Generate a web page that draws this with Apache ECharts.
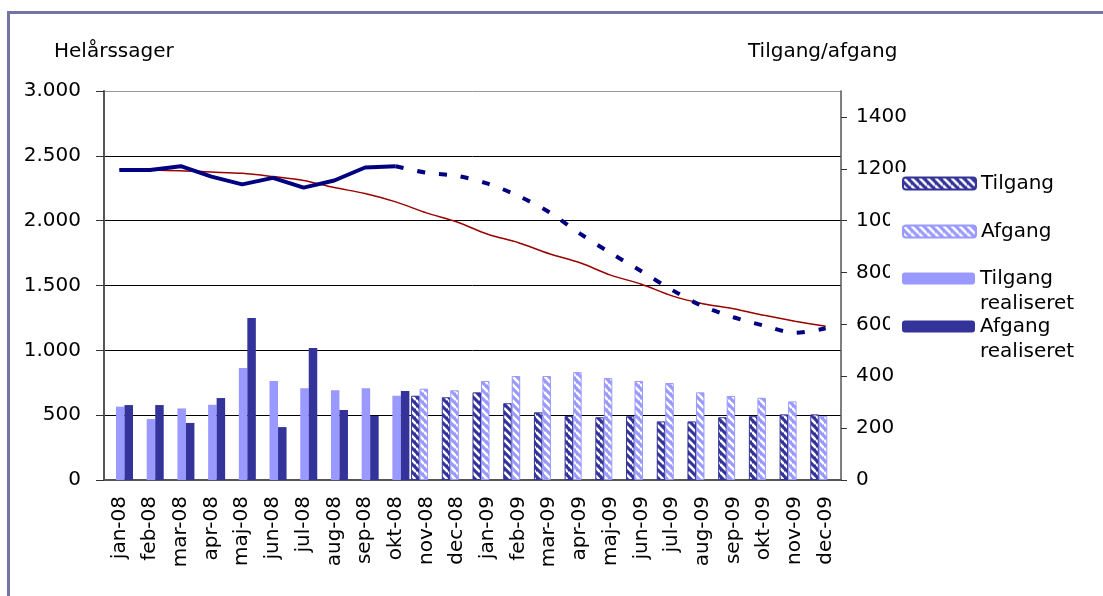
<!DOCTYPE html>
<html>
<head>
<meta charset="utf-8">
<title>Helårssager</title>
<script src="https://cdn.jsdelivr.net/npm/echarts@6.0.0/dist/echarts.min.js"></script>
<style>
  html, body { margin: 0; padding: 0; background: #fff; }
  #chart { width: 1103px; height: 596px; }
</style>
</head>
<body>
<div id="chart"></div>
<script>
// kategorier
const months = ["jan-08", "feb-08", "mar-08", "apr-08", "maj-08", "jun-08", "jul-08", "aug-08",
  "sep-08", "okt-08", "nov-08", "dec-08", "jan-09", "feb-09", "mar-09", "apr-09", "maj-09",
  "jun-09", "jul-09", "aug-09", "sep-09", "okt-09", "nov-09", "dec-09"];

// helårssager (venstre akse)
const helaarRealiseret = [2390, 2390, 2420, 2340, 2280, 2330, 2255, 2310, 2410, 2420,
  null, null, null, null, null, null, null, null, null, null, null, null, null, null];
const helaarPrognose = [null, null, null, null, null, null, null, null, null, 2420,
  2370, 2345, 2285, 2190, 2065, 1900, 1750, 1610, 1465, 1340, 1255, 1190, 1135, 1170];
const maal = [2395, 2390, 2385, 2375, 2365, 2340, 2310, 2255, 2210, 2145, 2060, 1990,
  1895, 1830, 1745, 1675, 1580, 1510, 1420, 1360, 1320, 1270, 1225, 1185];

// tilgang/afgang (højre akse)
const tilgangReal = [283, 235, 276, 290, 432, 382, 354, 346, 354, 325,
  null, null, null, null, null, null, null, null, null, null, null, null, null, null];
const afgangReal = [289, 289, 220, 316, 625, 204, 509, 270, 247, 343,
  null, null, null, null, null, null, null, null, null, null, null, null, null, null];
const tilgang = [null, null, null, null, null, null, null, null, null, null,
  325, 319, 338, 296, 261, 247, 242, 246, 226, 226, 242, 246, 253, 253];
const afgang = [null, null, null, null, null, null, null, null, null, null,
  352, 346, 382, 401, 401, 416, 393, 382, 374, 338, 324, 317, 303, 246];

const leftTicks = { min: 0, max: 3000, interval: 500 };
const rightTicks = { min: 0, max: 1500, interval: 200 };

const FONT = "DejaVu Sans";
const DARK = "#333399";
const LIGHT = "#9999FF";

// skraveret mønster til prognose-søjlerne
function hatch(color) {
  let c = document.createElement("canvas");
  c.width = 8;
  c.height = 8;
  let ctx = c.getContext("2d");
  ctx.fillStyle = color;
  ctx.fillRect(0, 0, 8, 8);
  ctx.strokeStyle = "#fff";
  ctx.lineWidth = 2.6;
  for (let k = -1; k <= 1; k++) {
    ctx.beginPath();
    ctx.moveTo(0, k * 8);
    ctx.lineTo(8, 8 + k * 8);
    ctx.stroke();
  }
  return { image: c, repeat: "repeat" };
}

function dots(v) {
  return String(v).replace(/\B(?=(\d{3})+(?!\d))/g, ".");
}

let chartDom = document.getElementById("chart");
let myChart = echarts.init(chartDom);
let option;

const txt = { fontFamily: FONT, fontSize: 20, color: "#000" };

// en legend pr. post, så placeringen passer
function legendItem(name, top, twoLines) {
  return {
    orient: "vertical",
    left: 902,
    top: top,
    padding: 0,
    itemWidth: 73,
    itemHeight: 12,
    selectedMode: false,
    data: [name],
    formatter: (n) => (twoLines ? "\n" + n.replace(" ", "\n") : n),
    textStyle: Object.assign({ lineHeight: 25 }, txt),
  };
}

option = {
  animation: false,
  backgroundColor: "#fff",
  title: [
    { text: "Helårssager", left: 54, top: 40, padding: 0,
      textStyle: Object.assign({ fontWeight: "normal", lineHeight: 24 }, txt) },
    { text: "Tilgang/afgang", left: 748, top: 40, padding: 0,
      textStyle: Object.assign({ fontWeight: "normal", lineHeight: 24 }, txt) },
  ],
  graphic: [
    { type: "rect", z: 2, shape: { x: 890, y: 172, width: 213, height: 192 },
      style: { fill: "#fff" } },
    { type: "rect", z: 1, shape: { x: 8.5, y: 12.5, width: 1200, height: 700 },
      style: { fill: "none", stroke: "#7373A8", lineWidth: 3 } },
  ],
  legend: [
    legendItem("Tilgang", 171, false),
    legendItem("Afgang", 219, false),
    legendItem("Tilgang realiseret", 241, true),
    legendItem("Afgang realiseret", 289, true),
  ],
  grid: { left: 104, right: 262, top: 91, bottom: 116 },
  xAxis: [
    {
      type: "category",
      data: months,
      axisLine: { lineStyle: { color: "#555", width: 2 } },
      axisTick: { length: 6, lineStyle: { color: "#333" } },
      axisLabel: Object.assign({ rotate: 90, interval: 0, margin: 16 }, txt),
    },
    { type: "category", data: months, show: false },
  ],
  yAxis: [
    {
      type: "value",
      min: leftTicks.min,
      max: leftTicks.max,
      interval: leftTicks.interval,
      axisLine: { show: true, lineStyle: { color: "#555", width: 2 } },
      axisTick: { show: true, length: 8, lineStyle: { color: "#333" } },
      axisLabel: Object.assign({ margin: 23, formatter: dots }, txt),
      splitLine: {
        lineStyle: { color: ["#000", "#000", "#000", "#000", "#000", "#000", "#999"], width: 1 },
      },
    },
    {
      type: "value",
      min: rightTicks.min,
      max: rightTicks.max,
      interval: rightTicks.interval,
      position: "right",
      axisLine: { show: true, lineStyle: { color: "#555", width: 1.5 } },
      axisTick: { show: true, length: 6, lineStyle: { color: "#333" } },
      axisLabel: Object.assign({ margin: 15, showMaxLabel: false, formatter: (v) => String(v) }, txt),
      splitLine: { show: false },
    },
  ],
  series: [
    // realiseret søjler (xAxis 0), med tom plads foran
    { name: "_pad1", type: "bar", xAxisIndex: 0, yAxisIndex: 1, data: [], barWidth: 10.3, barGap: "0%", silent: true },
    { name: "Tilgang realiseret", type: "bar", xAxisIndex: 0, yAxisIndex: 1, data: tilgangReal,
      barWidth: 8.5, barGap: "0%", itemStyle: { color: LIGHT } },
    { name: "Afgang realiseret", type: "bar", xAxisIndex: 0, yAxisIndex: 1, data: afgangReal,
      barWidth: 8.5, barGap: "0%", itemStyle: { color: DARK } },
    // prognose søjler (xAxis 1)
    { name: "Tilgang", type: "bar", xAxisIndex: 1, yAxisIndex: 1, data: tilgang,
      barWidth: 8.5, barGap: "0%", itemStyle: { color: hatch(DARK), borderColor: DARK, borderWidth: 1 } },
    { name: "Afgang", type: "bar", xAxisIndex: 1, yAxisIndex: 1, data: afgang,
      barWidth: 8.5, barGap: "0%", itemStyle: { color: hatch(LIGHT), borderColor: LIGHT, borderWidth: 1 } },
    { name: "_pad2", type: "bar", xAxisIndex: 1, yAxisIndex: 1, data: [], barWidth: 13.7, barGap: "0%", silent: true },
    // linjer
    { name: "Mål", type: "line", xAxisIndex: 0, yAxisIndex: 0, data: maal, smooth: 0.3,
      showSymbol: false, lineStyle: { color: "#990000", width: 1.5 } },
    { name: "Helårssager prognose", type: "line", xAxisIndex: 0, yAxisIndex: 0, data: helaarPrognose,
      smooth: 0.3, showSymbol: false,
      lineStyle: { color: "#000080", width: 4, type: [8, 14], cap: "butt" } },
    { name: "Helårssager", type: "line", xAxisIndex: 0, yAxisIndex: 0, data: helaarRealiseret,
      showSymbol: false, lineStyle: { color: "#000080", width: 4 } },
  ],
};

option && myChart.setOption(option);
</script>
</body>
</html>
